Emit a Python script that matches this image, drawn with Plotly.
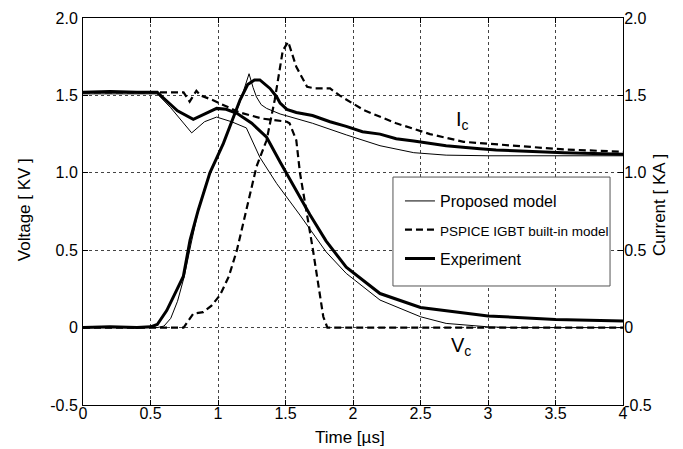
import plotly.graph_objects as go

# ---- data (time in µs, voltage in kV, current in kA) ----
t_vc_prop = [0, 0.55, 0.65, 0.805, 0.9, 0.99, 1.1, 1.21, 1.31, 1.435, 1.607, 1.68, 1.8, 1.95, 2.2, 2.5, 2.69, 3.0, 3.2, 4.0]
v_vc_prop = [1.51, 1.51, 1.42, 1.258, 1.33, 1.36, 1.33, 1.29, 1.10, 0.93, 0.727, 0.64, 0.49, 0.35, 0.178, 0.07, 0.027, 0.005, 0.0, 0.0]

t_ic_prop = [0, 0.55, 0.6, 0.65, 0.7, 0.75, 0.8, 0.85, 0.9, 0.94, 1.0, 1.05, 1.1, 1.16, 1.2, 1.23, 1.26, 1.285, 1.32, 1.36, 1.46, 1.7, 1.95, 2.2, 2.45, 2.69, 3.0, 4.0]
i_ic_prop = [0, 0.0, 0.01, 0.06, 0.17, 0.33, 0.54, 0.74, 0.9, 1.0, 1.11, 1.21, 1.32, 1.45, 1.56, 1.64, 1.55, 1.49, 1.44, 1.416, 1.38, 1.32, 1.245, 1.175, 1.13, 1.114, 1.11, 1.11]

t_vc_psp = [0, 0.745, 0.79, 0.84, 0.87, 0.96, 1.16, 1.33, 1.51, 1.53, 1.58, 1.607, 1.70, 1.78, 1.81, 4.0]
v_vc_psp = [1.52, 1.52, 1.46, 1.53, 1.50, 1.47, 1.39, 1.35, 1.33, 1.32, 1.21, 1.0, 0.52, 0.07, 0.0, 0.0]

t_ic_psp = [0, 0.745, 0.817, 0.89, 0.95, 1.015, 1.08, 1.14, 1.21, 1.285, 1.36, 1.42, 1.48, 1.52, 1.58, 1.66, 1.72, 1.83, 1.90, 2.08, 2.32, 2.57, 2.82, 3.06, 3.56, 4.0]
i_ic_psp = [0, 0.0, 0.09, 0.10, 0.14, 0.21, 0.33, 0.5, 0.76, 1.04, 1.21, 1.47, 1.79, 1.846, 1.685, 1.555, 1.545, 1.545, 1.50, 1.405, 1.32, 1.25, 1.20, 1.185, 1.151, 1.136]

t_vc_exp = [0, 0.2, 0.4, 0.55, 0.6, 0.7, 0.817, 0.9, 0.99, 1.06, 1.14, 1.25, 1.36, 1.46, 1.607, 1.68, 1.80, 1.95, 2.2, 2.5, 3.0, 3.5, 4.0]
v_vc_exp = [1.52, 1.525, 1.52, 1.52, 1.48, 1.40, 1.345, 1.38, 1.416, 1.41, 1.384, 1.32, 1.23, 1.07, 0.845, 0.73, 0.56, 0.39, 0.22, 0.13, 0.075, 0.053, 0.042]

t_ic_exp = [0, 0.2, 0.4, 0.5, 0.55, 0.62, 0.743, 0.793, 0.854, 0.94, 1.04, 1.163, 1.22, 1.27, 1.31, 1.385, 1.435, 1.46, 1.51, 1.58, 1.70, 1.83, 1.95, 2.07, 2.2, 2.32, 2.45, 2.57, 2.69, 2.94, 3.06, 3.56, 4.0]
i_ic_exp = [0, 0.005, 0.0, 0.005, 0.02, 0.11, 0.33, 0.565, 0.76, 1.0, 1.19, 1.47, 1.57, 1.60, 1.60, 1.545, 1.49, 1.45, 1.41, 1.39, 1.37, 1.33, 1.30, 1.265, 1.25, 1.22, 1.205, 1.19, 1.175, 1.155, 1.147, 1.13, 1.12]

x_ticks = [0, 0.5, 1, 1.5, 2, 2.5, 3, 3.5, 4]
x_labels = ["0", "0.5", "1", "1.5", "2", "2.5", "3", "3.5", "4"]
y_ticks = [-0.5, 0, 0.5, 1.0, 1.5, 2.0]
y_labels = ["-0.5", "0", "0.5", "1.0", "1.5", "2.0"]

FONT = "Liberation Sans, Arial, sans-serif"

fig = go.Figure()

prop_style = dict(color="black", width=1)
psp_style = dict(color="black", width=2.2, dash="7px,4px")
exp_style = dict(color="black", width=3)

fig.add_trace(go.Scatter(x=t_vc_prop, y=v_vc_prop, mode="lines", line=prop_style,
                         name="Proposed model", legendgroup="a", showlegend=True))
fig.add_trace(go.Scatter(x=t_ic_prop, y=i_ic_prop, mode="lines", line=prop_style,
                         name="Proposed model", legendgroup="a", showlegend=False, yaxis="y2"))
fig.add_trace(go.Scatter(x=t_vc_psp, y=v_vc_psp, mode="lines", line=psp_style,
                         name="<span style='font-size:13.5px'>PSPICE IGBT built-in model</span>",
                         legendgroup="b", showlegend=True))
fig.add_trace(go.Scatter(x=t_ic_psp, y=i_ic_psp, mode="lines", line=psp_style,
                         name="PSPICE", legendgroup="b", showlegend=False, yaxis="y2"))
fig.add_trace(go.Scatter(x=t_vc_exp, y=v_vc_exp, mode="lines", line=exp_style,
                         name="Experiment", legendgroup="c", showlegend=True))
fig.add_trace(go.Scatter(x=t_ic_exp, y=i_ic_exp, mode="lines", line=exp_style,
                         name="Experiment", legendgroup="c", showlegend=False, yaxis="y2"))

axis_common = dict(showline=True, linecolor="black", linewidth=1, ticks="inside",
                   ticklen=5, tickcolor="black", zeroline=False, automargin=False,
                   tickfont=dict(family=FONT, size=16, color="black"))

# page body has an 8px margin: figure is sized so it ends at the window edge
fig.update_layout(
    width=675, height=441,
    margin=dict(l=75, r=60, t=10, b=44, autoexpand=False),
    paper_bgcolor="white", plot_bgcolor="white",
    font=dict(family=FONT, size=16, color="black"),
    xaxis=dict(range=[0, 4], tickvals=x_ticks, ticktext=x_labels, mirror="ticks",
               showgrid=True, gridcolor="#444", griddash="dot", gridwidth=1,
               ticklabelstandoff=-6, **axis_common),
    yaxis=dict(range=[-0.5, 2.0], tickvals=y_ticks, ticktext=y_labels,
               showgrid=True, gridcolor="#444", griddash="dot", gridwidth=1,
               ticklabelstandoff=1, **axis_common),
    yaxis2=dict(range=[-0.5, 2.0], tickvals=y_ticks, ticktext=y_labels, overlaying="y",
                side="right", showgrid=False, ticklabelstandoff=-3, **axis_common),
    legend=dict(x=0.587, y=0.571, xanchor="left", yanchor="top",
                borderwidth=0, bgcolor="rgba(255,255,255,0)",
                font=dict(family=FONT, size=16, color="black"),
                tracegroupgap=5, itemwidth=30),
    showlegend=True,
)

# legend frame
fig.add_shape(type="rect", xref="paper", yref="paper", x0=0.574, x1=0.976, y0=0.3075, y1=0.589,
              line=dict(color="#555", width=1), fillcolor="white", layer="above")

# axis titles
fig.add_annotation(x=-0.107, y=0.504, xref="paper", yref="paper", text="Voltage [ KV ]",
                   xanchor="center", yanchor="middle",
                   textangle=-90, showarrow=False, font=dict(family=FONT, size=17, color="black"))
fig.add_annotation(x=1.0685, y=0.517, xref="paper", yref="paper", text="Current [ KA ]",
                   xanchor="center", yanchor="middle",
                   textangle=-90, showarrow=False, font=dict(family=FONT, size=17, color="black"))
fig.add_annotation(x=0.494, y=-0.0827, xref="paper", yref="paper", text="Time [µs]",
                   xanchor="center", yanchor="middle",
                   showarrow=False, font=dict(family=FONT, size=17, color="black"))

fig.add_annotation(x=2.81, y=1.34, xref="x", yref="y", text="I<sub>c</sub>", showarrow=False,
                   font=dict(family=FONT, size=20, color="black"))
fig.add_annotation(x=2.80, y=-0.12, xref="x", yref="y", text="V<sub>c</sub>", showarrow=False,
                   font=dict(family=FONT, size=20, color="black"))

fig.write_html("out.html")
